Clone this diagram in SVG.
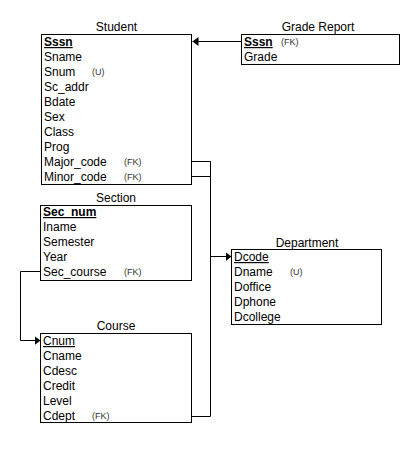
<svg xmlns="http://www.w3.org/2000/svg" width="407" height="472" viewBox="0 0 407 472">
<style>
text{font-family:"Liberation Sans",Arial,sans-serif;fill:#000}
.t{font-size:12px;text-anchor:middle}
.r{font-size:12px}
.k{text-decoration:underline}
.b{font-weight:bold}
.s{font-size:9px;fill:#333}
.box{fill:#fff;stroke:#000;stroke-width:1}
.c{fill:none;stroke:#000;stroke-width:1}
</style>
<defs>
<marker id="ah" markerWidth="8" markerHeight="10" refX="6" refY="4.5" orient="auto" markerUnits="userSpaceOnUse">
<path d="M0,0 L6,4.5 L0,9 Z" fill="#000"/>
</marker>
</defs>
<rect width="407" height="472" fill="#fff"/>
<g id="connectors">
<path class="c" d="M241.5,41.5 H192.5" marker-end="url(#ah)"/>
<path class="c" d="M191.5,161.5 H210.5 V416.5 H191.5"/>
<path class="c" d="M191.5,176.5 H210.5"/>
<path class="c" d="M210.5,256.5 H231.5" marker-end="url(#ah)"/>
<path class="c" d="M40.5,271.5 H20.5 V340.5 H40.5" marker-end="url(#ah)"/>
</g>
<g id="student">
<text class="t" x="116.5" y="31">Student</text>
<rect class="box" x="41.5" y="34.5" width="150" height="150"/>
<text class="r b k" x="44" y="46">Sssn</text>
<text class="r" x="44" y="61">Sname</text>
<text class="r" x="44" y="76">Snum</text><text class="s" x="92" y="75">(U)</text>
<text class="r" x="44" y="91">Sc_addr</text>
<text class="r" x="44" y="106">Bdate</text>
<text class="r" x="44" y="121">Sex</text>
<text class="r" x="44" y="136">Class</text>
<text class="r" x="44" y="151">Prog</text>
<text class="r" x="44" y="166">Major_code</text><text class="s" x="124" y="165">(FK)</text>
<text class="r" x="44" y="181">Minor_code</text><text class="s" x="124" y="180">(FK)</text>
</g>
<g id="grade-report">
<text class="t" x="318" y="31">Grade Report</text>
<rect class="box" x="241.5" y="34.5" width="158" height="30"/>
<text class="r b k" x="244" y="46">Sssn</text><text class="s" x="281" y="45">(FK)</text>
<text class="r" x="244" y="61">Grade</text>
</g>
<g id="section">
<text class="t" x="116" y="202">Section</text>
<rect class="box" x="40.5" y="205.5" width="151" height="75"/>
<text class="r b k" x="43" y="216">Sec_num</text>
<text class="r" x="43" y="231">Iname</text>
<text class="r" x="43" y="246">Semester</text>
<text class="r" x="43" y="261">Year</text>
<text class="r" x="43" y="276">Sec_course</text><text class="s" x="124" y="275">(FK)</text>
</g>
<g id="department">
<text class="t" x="307" y="247">Department</text>
<rect class="box" x="231.5" y="249.5" width="150" height="75"/>
<text class="r k" x="234" y="261">Dcode</text>
<text class="r" x="234" y="276">Dname</text><text class="s" x="290" y="275">(U)</text>
<text class="r" x="234" y="291">Doffice</text>
<text class="r" x="234" y="306">Dphone</text>
<text class="r" x="234" y="321">Dcollege</text>
</g>
<g id="course">
<text class="t" x="116" y="330">Course</text>
<rect class="box" x="40.5" y="333.5" width="151" height="89"/>
<text class="r k" x="43" y="345">Cnum</text>
<text class="r" x="43" y="360">Cname</text>
<text class="r" x="43" y="375">Cdesc</text>
<text class="r" x="43" y="390">Credit</text>
<text class="r" x="43" y="405">Level</text>
<text class="r" x="43" y="420">Cdept</text><text class="s" x="92" y="419">(FK)</text>
</g>
</svg>
